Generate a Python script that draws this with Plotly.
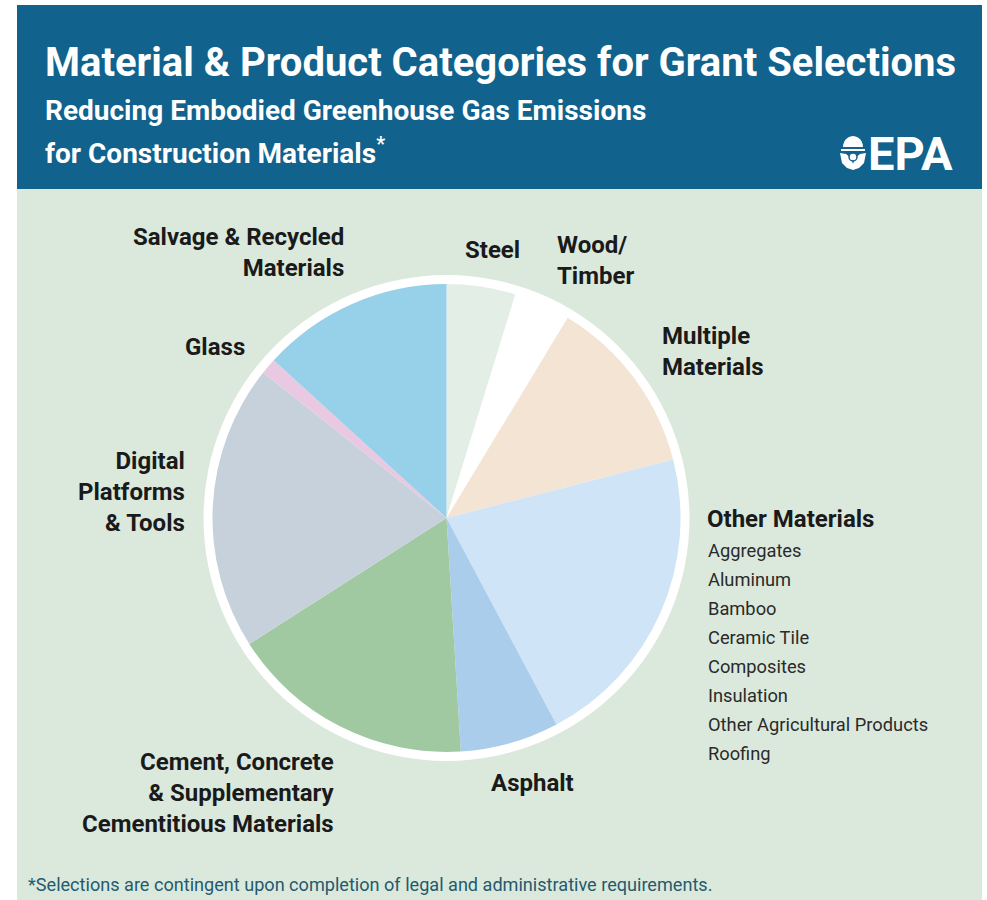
import plotly.graph_objects as go
import math

W, H = 987, 900

# ---- data ----
categories = ["Steel", "Wood/Timber", "Multiple Materials", "Other Materials", "Asphalt",
              "Cement, Concrete & Supplementary Cementitious Materials",
              "Digital Platforms & Tools", "Glass", "Salvage & Recycled Materials"]
shares = [4.75, 3.9, 12.3, 21.2, 6.8, 16.9, 19.7, 1.1, 13.2]
slice_colors = ["#e3eee6", "#ffffff", "#f3e4d3", "#cfe4f7", "#a9cdea",
                "#a0c9a2", "#c6d1db", "#e9c8e2", "#97d0e9"]
other_materials = ["Aggregates", "Aluminum", "Bamboo", "Ceramic Tile", "Composites",
                   "Insulation", "Other Agricultural Products", "Roofing"]

title = "Material & Product Categories for Grant Selections"
subtitle1 = "Reducing Embodied Greenhouse Gas Emissions"
subtitle2 = "for Construction Materials<sup>*</sup>"
footnote = "*Selections are contingent upon completion of legal and administrative requirements."

FONT = "Roboto, Liberation Sans, sans-serif"
HEADER = "#11628d"
BG = "#dbe9dd"

def px(x):
    return x / W

def py(y):
    return 1 - y / H

cx, cy, r_pie, r_ring = 446.5, 518, 234, 243

fig = go.Figure()
fig.add_trace(go.Pie(
    labels=categories, values=shares, sort=False, direction="clockwise", rotation=0,
    marker=dict(colors=slice_colors, line=dict(width=0)),
    textinfo="none", hoverinfo="skip", showlegend=False,
    domain=dict(x=[px(cx - r_pie), px(cx + r_pie)], y=[py(cy + r_pie), py(cy - r_pie)]),
))

shapes = [
    dict(type="rect", xref="paper", yref="paper", x0=px(17), x1=px(982), y0=py(189), y1=py(900),
         fillcolor=BG, line=dict(width=0), layer="below"),
    dict(type="rect", xref="paper", yref="paper", x0=px(17), x1=px(982), y0=py(5), y1=py(189),
         fillcolor=HEADER, line=dict(width=0), layer="below"),
    dict(type="circle", xref="paper", yref="paper", x0=px(cx - r_ring), x1=px(cx + r_ring),
         y0=py(cy + r_ring), y1=py(cy - r_ring), fillcolor="#ffffff", line=dict(width=0), layer="below"),
]

# EPA logo icon (decorative)
def path(points, close=True):
    s = "M " + " L ".join(f"{px(x):.5f},{py(y):.5f}" for x, y in points)
    return s + (" Z" if close else "")

dome = [(843 + 10 - 10 * math.cos(t * math.pi / 12), 147 - 11 * math.sin(t * math.pi / 12)) for t in range(13)]
shapes.append(dict(type="path", xref="paper", yref="paper", path=path(dome), fillcolor="white", line=dict(width=0)))
shapes.append(dict(type="rect", xref="paper", yref="paper", x0=px(841), x1=px(865), y0=py(151), y1=py(149),
                   fillcolor="white", line=dict(width=0)))
leftleaf = [(840, 153), (846, 154), (851, 158), (853, 164), (853, 170), (847, 168), (842, 163)]
rightleaf = [(866, 153), (860, 154), (855, 158), (853, 164), (853, 170), (859, 168), (864, 163)]
shapes.append(dict(type="path", xref="paper", yref="paper", path=path(leftleaf), fillcolor="white", line=dict(width=0)))
shapes.append(dict(type="path", xref="paper", yref="paper", path=path(rightleaf), fillcolor="white", line=dict(width=0)))
shapes.append(dict(type="circle", xref="paper", yref="paper", x0=px(849), x1=px(857), y0=py(161), y1=py(153),
                   fillcolor="white", line=dict(color=HEADER, width=1.5)))

ann = []
def add(text, x, y, size=24, color="#1a1a1a", xanchor="left", align="left", bold=True):
    t = f"<b>{text}</b>" if bold else text
    ann.append(dict(text=t, x=px(x), y=py(y), xref="paper", yref="paper", showarrow=False,
                    xanchor=xanchor, yanchor="middle", align=align,
                    font=dict(family=FONT, size=size, color=color)))

# header
add(title, 43, 62, size=40, color="white")
add(subtitle1, 43, 111, size=28, color="white")
add(subtitle2, 43, 152, size=28, color="white")
add("EPA", 866, 153, size=47, color="white")

# slice labels
add("Salvage &amp; Recycled<br>Materials", 346, 253, xanchor="right", align="right")
add("Glass", 247, 347, xanchor="right", align="right")
add("Steel", 463, 250)
add("Wood/<br>Timber", 555, 260)
add("Multiple<br>Materials", 660, 351)
add("Other Materials", 705, 519)
for i, item in enumerate(other_materials):
    add(item, 706, 550 + 29 * i, size=18.3, color="#2a2a2a", bold=False)
add("Digital<br>Platforms<br>&amp; Tools", 187, 492, xanchor="right", align="right")
add("Asphalt", 489, 783)
add("Cement, Concrete<br>&amp; Supplementary<br>Cementitious Materials", 337, 793, xanchor="right", align="right")

# footnote
add(footnote, 26, 884, size=18.1, color="#245a6e", bold=False)

fig.update_layout(
    width=W, height=H, margin=dict(l=0, r=0, t=0, b=0),
    paper_bgcolor="white", plot_bgcolor="white",
    shapes=shapes, annotations=ann, showlegend=False,
)

fig.write_html("out.html")
